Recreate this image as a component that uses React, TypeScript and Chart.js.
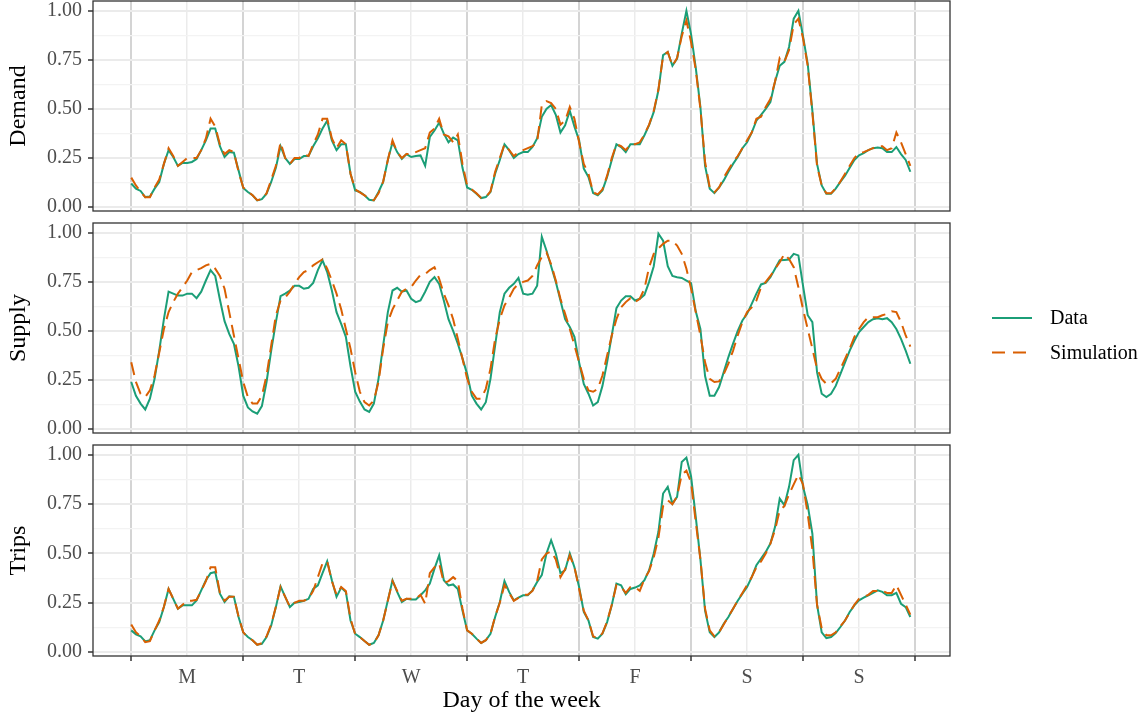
import React, { useEffect, useRef } from 'react';
import { Chart, registerables } from 'chart.js';

Chart.register(...registerables);

// ---------- data ----------
const dayLabels = ['M', 'T', 'W', 'T', 'F', 'S', 'S'];
const xTickValues = [0, 12, 24, 36, 48, 60, 72, 84, 96, 108, 120, 132, 144, 156, 168];
const yTickValues = [0, 0.125, 0.25, 0.375, 0.5, 0.625, 0.75, 0.875, 1];
const panelNames = ['Demand', 'Supply', 'Trips'];
const seriesNames = ['Data', 'Simulation'];
const seriesColors = ['#1b9e77', '#d95f02'];

const demandData = [
  0.12, 0.094, 0.082, 0.051, 0.054, 0.094, 0.128, 0.22, 0.29, 0.255, 0.21, 0.225, 0.225, 0.23, 0.245, 0.29, 0.34, 0.40, 0.40, 0.31, 0.255, 0.28, 0.277, 0.187,
  0.097, 0.077, 0.06, 0.034, 0.04, 0.068, 0.128, 0.20, 0.31, 0.25, 0.22, 0.245, 0.245, 0.26, 0.26, 0.31, 0.35, 0.40, 0.44, 0.34, 0.29, 0.32, 0.32, 0.17,
  0.085, 0.077, 0.06, 0.037, 0.034, 0.077, 0.128, 0.24, 0.33, 0.28, 0.245, 0.27, 0.255, 0.26, 0.263, 0.21, 0.357, 0.39, 0.43, 0.374, 0.33, 0.354, 0.34, 0.20,
  0.10, 0.088, 0.068, 0.046, 0.051, 0.077, 0.17, 0.24, 0.32, 0.29, 0.25, 0.27, 0.28, 0.28, 0.306, 0.35, 0.46, 0.50, 0.52, 0.47, 0.38, 0.417, 0.49, 0.41,
  0.34, 0.196, 0.153, 0.071, 0.06, 0.085, 0.153, 0.24, 0.32, 0.306, 0.28, 0.32, 0.32, 0.32, 0.366, 0.417, 0.485, 0.595, 0.774, 0.79, 0.72, 0.757, 0.884, 1.00,
  0.88, 0.71, 0.51, 0.21, 0.094, 0.071, 0.10, 0.136, 0.18, 0.22, 0.255, 0.30, 0.33, 0.38, 0.44, 0.47, 0.50, 0.535, 0.64, 0.72, 0.74, 0.816, 0.96, 1.00,
  0.87, 0.73, 0.49, 0.22, 0.11, 0.068, 0.068, 0.094, 0.128, 0.16, 0.20, 0.24, 0.264, 0.275, 0.29, 0.30, 0.303, 0.30, 0.28, 0.28, 0.306, 0.27, 0.24, 0.18,
];
const demandSim = [
  0.15, 0.11, 0.08, 0.05, 0.05, 0.10, 0.14, 0.22, 0.30, 0.26, 0.21, 0.23, 0.25, 0.25, 0.25, 0.29, 0.35, 0.45, 0.41, 0.32, 0.27, 0.29, 0.28, 0.18,
  0.10, 0.08, 0.06, 0.035, 0.04, 0.07, 0.14, 0.21, 0.33, 0.25, 0.22, 0.25, 0.25, 0.27, 0.26, 0.32, 0.37, 0.45, 0.45, 0.35, 0.30, 0.34, 0.32, 0.17,
  0.09, 0.075, 0.06, 0.04, 0.035, 0.07, 0.13, 0.24, 0.34, 0.28, 0.25, 0.27, 0.27, 0.28, 0.29, 0.30, 0.38, 0.40, 0.45, 0.37, 0.36, 0.33, 0.37, 0.22,
  0.11, 0.09, 0.07, 0.046, 0.05, 0.08, 0.18, 0.25, 0.32, 0.29, 0.26, 0.28, 0.29, 0.30, 0.31, 0.33, 0.52, 0.54, 0.53, 0.50, 0.42, 0.44, 0.51, 0.45,
  0.33, 0.22, 0.17, 0.075, 0.065, 0.09, 0.16, 0.25, 0.32, 0.31, 0.29, 0.32, 0.32, 0.33, 0.37, 0.42, 0.49, 0.60, 0.77, 0.79, 0.72, 0.76, 0.87, 0.95,
  0.84, 0.70, 0.50, 0.23, 0.10, 0.075, 0.10, 0.15, 0.19, 0.23, 0.26, 0.30, 0.34, 0.38, 0.45, 0.46, 0.51, 0.55, 0.64, 0.76, 0.74, 0.80, 0.93, 0.96,
  0.86, 0.72, 0.48, 0.21, 0.11, 0.07, 0.07, 0.095, 0.13, 0.17, 0.21, 0.25, 0.275, 0.28, 0.29, 0.30, 0.31, 0.31, 0.29, 0.30, 0.38, 0.33, 0.27, 0.21,
];
const supplyData = [
  0.24, 0.17, 0.13, 0.10, 0.155, 0.256, 0.40, 0.56, 0.70, 0.69, 0.68, 0.68, 0.69, 0.69, 0.667, 0.70, 0.757, 0.81, 0.78, 0.66, 0.55, 0.485, 0.435, 0.32,
  0.17, 0.11, 0.09, 0.078, 0.117, 0.24, 0.40, 0.545, 0.677, 0.69, 0.706, 0.73, 0.73, 0.715, 0.72, 0.745, 0.81, 0.86, 0.80, 0.706, 0.596, 0.536, 0.47, 0.32,
  0.19, 0.14, 0.10, 0.087, 0.13, 0.256, 0.426, 0.596, 0.706, 0.72, 0.70, 0.706, 0.664, 0.647, 0.655, 0.70, 0.75, 0.774, 0.74, 0.655, 0.56, 0.50, 0.435, 0.36,
  0.28, 0.17, 0.13, 0.10, 0.137, 0.256, 0.426, 0.596, 0.69, 0.72, 0.74, 0.77, 0.69, 0.684, 0.69, 0.73, 0.98, 0.91, 0.83, 0.75, 0.655, 0.56, 0.52, 0.47,
  0.34, 0.23, 0.18, 0.12, 0.137, 0.22, 0.34, 0.477, 0.616, 0.655, 0.677, 0.677, 0.655, 0.664, 0.684, 0.75, 0.83, 0.995, 0.96, 0.83, 0.78, 0.774, 0.77, 0.757,
  0.744, 0.60, 0.51, 0.27, 0.17, 0.17, 0.214, 0.29, 0.367, 0.435, 0.50, 0.553, 0.587, 0.638, 0.69, 0.737, 0.745, 0.774, 0.817, 0.86, 0.862, 0.864, 0.893, 0.885,
  0.73, 0.58, 0.545, 0.29, 0.18, 0.163, 0.18, 0.22, 0.28, 0.34, 0.40, 0.45, 0.494, 0.52, 0.545, 0.56, 0.565, 0.56, 0.565, 0.545, 0.51, 0.46, 0.40, 0.333,
];
const supplySim = [
  0.34, 0.24, 0.18, 0.163, 0.197, 0.273, 0.39, 0.51, 0.596, 0.647, 0.69, 0.723, 0.757, 0.80, 0.81, 0.82, 0.834, 0.842, 0.817, 0.78, 0.715, 0.596, 0.477, 0.358,
  0.24, 0.163, 0.13, 0.13, 0.17, 0.273, 0.426, 0.58, 0.655, 0.67, 0.70, 0.74, 0.774, 0.80, 0.81, 0.834, 0.85, 0.864, 0.817, 0.757, 0.69, 0.61, 0.51, 0.41,
  0.29, 0.19, 0.137, 0.12, 0.146, 0.24, 0.41, 0.545, 0.61, 0.655, 0.70, 0.715, 0.723, 0.757, 0.786, 0.79, 0.81, 0.825, 0.766, 0.69, 0.63, 0.56, 0.46, 0.358,
  0.256, 0.19, 0.155, 0.155, 0.205, 0.307, 0.46, 0.56, 0.63, 0.67, 0.715, 0.74, 0.75, 0.757, 0.78, 0.834, 0.876, 0.90, 0.84, 0.757, 0.664, 0.587, 0.51, 0.426,
  0.34, 0.256, 0.197, 0.19, 0.205, 0.273, 0.375, 0.477, 0.56, 0.62, 0.647, 0.667, 0.647, 0.664, 0.715, 0.825, 0.893, 0.92, 0.944, 0.96, 0.96, 0.935, 0.893, 0.817,
  0.715, 0.596, 0.477, 0.34, 0.256, 0.24, 0.243, 0.28, 0.333, 0.40, 0.477, 0.545, 0.596, 0.62, 0.655, 0.723, 0.75, 0.78, 0.817, 0.85, 0.893, 0.866, 0.825, 0.723,
  0.61, 0.51, 0.41, 0.307, 0.256, 0.23, 0.234, 0.256, 0.307, 0.358, 0.41, 0.47, 0.51, 0.545, 0.57, 0.57, 0.57, 0.58, 0.587, 0.60, 0.596, 0.545, 0.477, 0.42,
];
const tripsData = [
  0.11, 0.09, 0.08, 0.054, 0.06, 0.11, 0.152, 0.228, 0.32, 0.27, 0.22, 0.237, 0.237, 0.237, 0.262, 0.313, 0.364, 0.40, 0.406, 0.296, 0.254, 0.283, 0.28, 0.178,
  0.10, 0.076, 0.06, 0.037, 0.042, 0.076, 0.135, 0.228, 0.333, 0.28, 0.228, 0.25, 0.254, 0.26, 0.27, 0.32, 0.338, 0.40, 0.46, 0.364, 0.28, 0.327, 0.305, 0.16,
  0.093, 0.076, 0.056, 0.037, 0.046, 0.085, 0.16, 0.262, 0.364, 0.305, 0.254, 0.27, 0.266, 0.266, 0.288, 0.313, 0.347, 0.423, 0.49, 0.364, 0.338, 0.343, 0.32, 0.21,
  0.11, 0.093, 0.068, 0.046, 0.06, 0.093, 0.178, 0.254, 0.36, 0.305, 0.262, 0.276, 0.288, 0.288, 0.313, 0.355, 0.39, 0.50, 0.567, 0.50, 0.40, 0.415, 0.50, 0.43,
  0.33, 0.203, 0.16, 0.076, 0.068, 0.093, 0.152, 0.237, 0.347, 0.338, 0.293, 0.32, 0.327, 0.338, 0.364, 0.415, 0.50, 0.61, 0.804, 0.838, 0.753, 0.787, 0.964, 0.986,
  0.89, 0.685, 0.47, 0.21, 0.10, 0.076, 0.10, 0.144, 0.178, 0.22, 0.26, 0.296, 0.33, 0.38, 0.44, 0.474, 0.508, 0.55, 0.635, 0.778, 0.745, 0.838, 0.973, 1.00,
  0.838, 0.745, 0.60, 0.24, 0.10, 0.071, 0.076, 0.096, 0.127, 0.16, 0.203, 0.237, 0.262, 0.276, 0.288, 0.30, 0.313, 0.305, 0.288, 0.288, 0.30, 0.245, 0.228, 0.178,
];
const tripsSim = [
  0.14, 0.10, 0.08, 0.05, 0.055, 0.11, 0.16, 0.23, 0.32, 0.27, 0.22, 0.24, 0.26, 0.26, 0.265, 0.31, 0.36, 0.43, 0.43, 0.30, 0.26, 0.28, 0.28, 0.18,
  0.10, 0.075, 0.06, 0.037, 0.045, 0.08, 0.14, 0.23, 0.33, 0.28, 0.23, 0.25, 0.26, 0.26, 0.27, 0.31, 0.38, 0.45, 0.46, 0.36, 0.29, 0.33, 0.31, 0.17,
  0.09, 0.076, 0.056, 0.037, 0.046, 0.085, 0.16, 0.26, 0.36, 0.31, 0.26, 0.27, 0.27, 0.27, 0.29, 0.245, 0.40, 0.43, 0.45, 0.35, 0.36, 0.38, 0.36, 0.22,
  0.11, 0.093, 0.068, 0.046, 0.06, 0.093, 0.18, 0.25, 0.34, 0.30, 0.26, 0.275, 0.29, 0.29, 0.31, 0.36, 0.47, 0.50, 0.51, 0.47, 0.38, 0.42, 0.49, 0.43,
  0.32, 0.21, 0.16, 0.08, 0.07, 0.095, 0.155, 0.24, 0.34, 0.33, 0.30, 0.33, 0.33, 0.31, 0.37, 0.41, 0.48, 0.58, 0.74, 0.77, 0.75, 0.79, 0.90, 0.92,
  0.86, 0.66, 0.47, 0.22, 0.11, 0.08, 0.10, 0.14, 0.18, 0.22, 0.26, 0.30, 0.34, 0.38, 0.43, 0.46, 0.50, 0.55, 0.62, 0.72, 0.74, 0.80, 0.85, 0.90,
  0.85, 0.70, 0.52, 0.24, 0.12, 0.085, 0.085, 0.10, 0.13, 0.16, 0.20, 0.24, 0.27, 0.28, 0.29, 0.31, 0.31, 0.31, 0.30, 0.30, 0.34, 0.29, 0.24, 0.19,
];

const panelSeries = [
  [demandData, demandSim],
  [supplyData, supplySim],
  [tripsData, tripsSim],
];

// ---------- styling ----------
const FONT = "'Liberation Serif', 'Times New Roman', 'DejaVu Serif', serif";
const CANVAS_W = 1146;
const PLOT_LEFT = 93;
const PLOT_RIGHT_PAD = 196;
const BOTTOM_AXIS_H = 63;
const TRANSPARENT = 'rgba(0,0,0,0)';

const isMajorX = (v: number) => v % 24 === 0;
const isMajorY = (v: number) => Math.abs(v * 4 - Math.round(v * 4)) < 1e-6;

const panelBorder = {
  id: 'panelBorder',
  afterDraw(chart: any) {
    const { ctx, chartArea: a } = chart;
    ctx.save();
    ctx.strokeStyle = '#333333';
    ctx.lineWidth = 1.3;
    ctx.strokeRect(a.left, a.top, a.right - a.left, a.bottom - a.top);
    ctx.restore();
  },
};

const sideLegend = {
  id: 'sideLegend',
  afterDraw(chart: any) {
    const { ctx, chartArea: a } = chart;
    const cy = (a.top + a.bottom) / 2;
    const order = chart.data.datasets
      .map((ds: any, i: number) => ({ ds, i }))
      .sort((p: any, q: any) => seriesNames.indexOf(p.ds.label) - seriesNames.indexOf(q.ds.label));
    order.forEach((item: any, k: number) => {
      const ds = item.ds;
      const y = cy - 10 + k * 34.5;
      ctx.save();
      ctx.strokeStyle = ds.borderColor;
      ctx.lineWidth = 2;
      ctx.setLineDash(ds.borderDash ? [13, 8] : []);
      ctx.beginPath();
      ctx.moveTo(a.right + 42, y);
      ctx.lineTo(a.right + 82, y);
      ctx.stroke();
      ctx.setLineDash([]);
      ctx.fillStyle = '#000000';
      ctx.font = `20px ${FONT}`;
      ctx.textAlign = 'left';
      ctx.textBaseline = 'middle';
      ctx.fillText(ds.label, a.right + 100, y + 1);
      ctx.restore();
    });
  },
};

function makeConfig(panel: number): any {
  const isBottom = panel === 2;
  const [dataVals, simVals] = panelSeries[panel];
  return {
    type: 'line',
    data: {
      datasets: [
        {
          label: seriesNames[0],
          data: dataVals.map((v, i) => ({ x: i, y: v })),
          borderColor: seriesColors[0],
          borderWidth: 2,
          pointRadius: 0,
          fill: false,
          tension: 0,
          order: 2,
        },
        {
          label: seriesNames[1],
          data: simVals.map((v, i) => ({ x: i, y: v })),
          borderColor: seriesColors[1],
          borderWidth: 2,
          borderDash: [13, 7],
          pointRadius: 0,
          fill: false,
          tension: 0,
          order: 1,
        },
      ],
    },
    options: {
      responsive: false,
      animation: false,
      events: [],
      layout: { padding: { top: 1, bottom: isBottom ? 0 : 1, left: 0, right: PLOT_RIGHT_PAD } },
      plugins: { legend: { display: false }, tooltip: { enabled: false } },
      scales: {
        x: {
          type: 'linear',
          min: -8.2,
          max: 175.5,
          afterBuildTicks: (s: any) => {
            s.ticks = xTickValues.map((v) => ({ value: v }));
          },
          afterFit: (s: any) => {
            s.height = isBottom ? BOTTOM_AXIS_H : 0;
            s.paddingLeft = 0;
            s.paddingRight = 0;
          },
          border: { display: false },
          grid: {
            color: (c: any) => (c.tick && isMajorX(c.tick.value) ? '#d4d4d4' : '#ebebeb'),
            lineWidth: (c: any) => (c.tick && isMajorX(c.tick.value) ? 2 : 1.5),
            drawTicks: isBottom,
            tickLength: 5,
            tickColor: (c: any) => (c.tick && isMajorX(c.tick.value) ? '#333333' : TRANSPARENT),
            tickWidth: 1.5,
          },
          ticks: {
            display: isBottom,
            autoSkip: false,
            maxRotation: 0,
            padding: 5,
            color: '#4d4d4d',
            font: { family: FONT, size: 20 },
            callback: (v: number) => (v % 24 === 12 ? dayLabels[(v - 12) / 24] : ''),
          },
          title: {
            display: isBottom,
            text: 'Day of the week',
            color: '#000000',
            font: { family: FONT, size: 24, lineHeight: 1 },
            padding: { top: 0, bottom: 6 },
          },
        },
        y: {
          type: 'linear',
          min: -0.02,
          max: 1.05,
          afterBuildTicks: (s: any) => {
            s.ticks = yTickValues.map((v) => ({ value: v }));
          },
          afterFit: (s: any) => {
            s.width = PLOT_LEFT;
            s.paddingTop = 0;
            s.paddingBottom = 0;
          },
          border: { display: false },
          grid: {
            color: (c: any) => (c.tick && isMajorY(c.tick.value) ? '#ebebeb' : '#f3f3f3'),
            lineWidth: (c: any) => (c.tick && isMajorY(c.tick.value) ? 2 : 1.2),
            tickLength: 5,
            tickColor: (c: any) => (c.tick && isMajorY(c.tick.value) ? '#333333' : TRANSPARENT),
            tickWidth: 1.5,
          },
          ticks: {
            autoSkip: false,
            padding: 6,
            color: '#4d4d4d',
            font: { family: FONT, size: 20 },
            callback: (v: number) => (isMajorY(v) ? v.toFixed(2) : ''),
          },
          title: {
            display: true,
            text: panelNames[panel],
            color: '#000000',
            font: { family: FONT, size: 24, lineHeight: 1 },
            padding: { top: 7, bottom: 0 },
          },
        },
      },
    },
    plugins: panel === 1 ? [panelBorder, sideLegend] : [panelBorder],
  };
}

export default function App() {
  const r1 = useRef<HTMLCanvasElement>(null);
  const r2 = useRef<HTMLCanvasElement>(null);
  const r3 = useRef<HTMLCanvasElement>(null);

  useEffect(() => {
    const refs = [r1, r2, r3];
    const charts = refs.map((r, i) => new Chart(r.current as HTMLCanvasElement, makeConfig(i)));
    return () => charts.forEach((c) => c.destroy());
  }, []);

  return (
    <div style={{ position: 'absolute', left: 0, top: 0, width: CANVAS_W, height: 719, background: '#ffffff' }}>
      <canvas ref={r1} width={CANVAS_W} height={212} style={{ position: 'absolute', left: 0, top: 0, width: CANVAS_W, height: 212 }} />
      <canvas ref={r2} width={CANVAS_W} height={212} style={{ position: 'absolute', left: 0, top: 222, width: CANVAS_W, height: 212 }} />
      <canvas ref={r3} width={CANVAS_W} height={275} style={{ position: 'absolute', left: 0, top: 444, width: CANVAS_W, height: 275 }} />
    </div>
  );
}
